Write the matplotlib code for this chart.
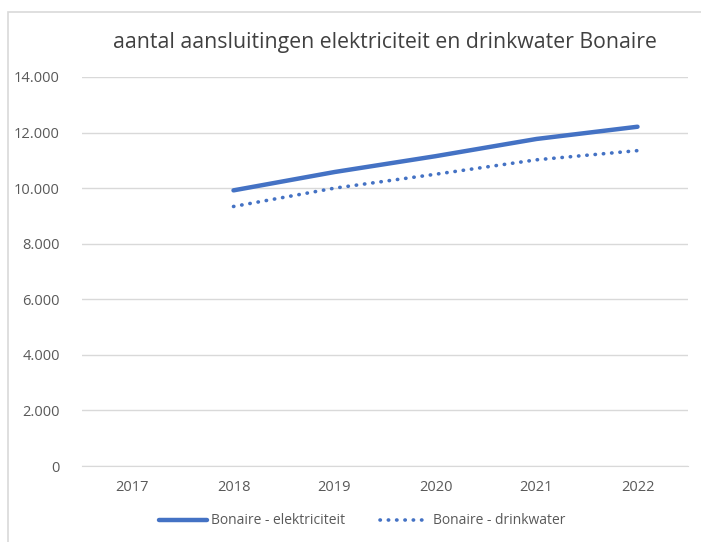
import matplotlib.pyplot as plt
from matplotlib.patches import Rectangle
from matplotlib.ticker import FuncFormatter

jaren = ['2017', '2018', '2019', '2020', '2021', '2022']
elektriciteit = [None, 9920, 10580, 11150, 11770, 12210]
drinkwater = [None, 9340, 10000, 10500, 11020, 11350]

plt.rcParams['font.family'] = ['Open Sans', 'DejaVu Sans']

fig = plt.figure(figsize=(7.01, 5.42), dpi=100)
ax = fig.add_axes([82 / 701, 1 - 466 / 542, (688 - 82) / 701, (466 - 77) / 542])

# lichte rand rond de grafiek
fig.patches.append(Rectangle((8 / 701, -0.01), 1, 1 - 12 / 542 + 0.01, transform=fig.transFigure,
                             fill=False, edgecolor='#d9d9d9', linewidth=1.2))

x = list(range(len(jaren)))
xe = [i for i, v in zip(x, elektriciteit) if v is not None]
ye = [v for v in elektriciteit if v is not None]
xd = [i for i, v in zip(x, drinkwater) if v is not None]
yd = [v for v in drinkwater if v is not None]

kleur = '#4472C4'
ax.plot(xe, ye, color=kleur, linewidth=3.2, solid_capstyle='round', label='Bonaire - elektriciteit')
ax.plot(xd, yd, color=kleur, linewidth=2.6, linestyle=(0, (0.1, 2.2)), dash_capstyle='round',
        label='Bonaire - drinkwater')

ax.set_xlim(-0.5, len(jaren) - 0.5)
ax.set_ylim(0, 14000)
ax.set_yticks(range(0, 14001, 2000))
ax.yaxis.set_major_formatter(FuncFormatter(lambda v, p: f'{int(v):,}'.replace(',', '.')))
ax.set_xticks(x)
ax.set_xticklabels(jaren)
ax.grid(axis='y', color='#d9d9d9', linewidth=1)
ax.set_axisbelow(True)
for s in ['top', 'right', 'left']:
    ax.spines[s].set_visible(False)
ax.spines['bottom'].set_color('#d9d9d9')
ax.tick_params(axis='both', length=0, labelsize=10.5, colors='#595959', pad=10)
ax.tick_params(axis='y', pad=16)

fig.text(385 / 701, 1 - 42 / 542, 'aantal aansluitingen elektriciteit en drinkwater Bonaire',
         ha='center', va='center', fontsize=15.3, color='#404040')

fig.legend(loc='center', bbox_to_anchor=(362 / 701, 1 - 521 / 542), ncol=2, frameon=False,
           fontsize=10, labelcolor='#595959', handlelength=3.5, handletextpad=0.3, columnspacing=2.5)

fig.savefig('out.png', dpi=100)
